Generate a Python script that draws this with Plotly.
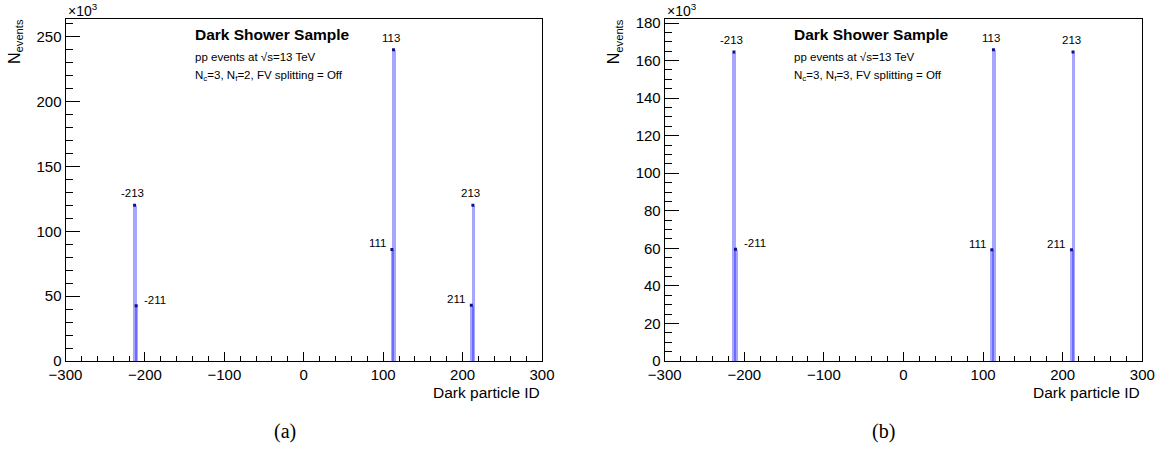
import plotly.graph_objects as go

# ---- data (counts in units of 10^3 events) ----
particle_ids = [-213, -211, 111, 113, 211, 213]
counts_a = [120, 42.5, 86, 240, 43, 120]
counts_b = [164.5, 59.5, 59.3, 165.8, 59.3, 164.5]
panel_labels = ["(a)", "(b)"]
n_flavours = [2, 3]
x_ticks = [-300, -200, -100, 0, 100, 200, 300]

W, H = 1163, 450
FONT = "Liberation Sans, Arial, sans-serif"

# label placement per particle id (style)
label_place = {-213: "above", -211: "right", 111: "left", 113: "above", 211: "left", 213: "above"}

panels = [
    dict(counts=counts_a, x0=65.5, x1=542, ymax=264, ydt=50, ymin_dt=10),
    dict(counts=counts_b, x0=664.7, x1=1142.3, ymax=182.4, ydt=20, ymin_dt=5),
]
top_px, bot_px = 18.5, 361

fig = go.Figure()
annotations = []
layout_axes = {}

for i, p in enumerate(panels):
    xa = "x" if i == 0 else "x2"
    ya = "y" if i == 0 else "y2"
    fig.add_trace(go.Bar(
        x=particle_ids, y=p["counts"], width=4.5,
        marker=dict(color="rgba(0,0,255,0.35)", line=dict(width=0)),
        xaxis=xa, yaxis=ya, showlegend=False, hoverinfo="x+y"))
    fig.add_trace(go.Scatter(
        x=particle_ids, y=p["counts"], mode="markers",
        marker=dict(symbol="square", size=3, color="#10108a", line=dict(width=0)),
        xaxis=xa, yaxis=ya, showlegend=False, hoverinfo="skip"))

    xdom = [p["x0"] / W, p["x1"] / W]
    ydom = [1 - bot_px / H, 1 - top_px / H]
    suffix = "" if i == 0 else "2"
    layout_axes["xaxis" + suffix] = dict(
        domain=xdom, range=[-300, 300], anchor=ya, automargin=False,
        tickmode="array", tickvals=x_ticks,
        ticks="inside", ticklen=9, tickwidth=1, tickcolor="black",
        minor=dict(dtick=20, tick0=0, ticks="inside", ticklen=5, tickwidth=1, tickcolor="black"),
        showline=True, linecolor="black", linewidth=1, mirror=True,
        showgrid=False, zeroline=False,
        tickfont=dict(family=FONT, size=15, color="black"))
    layout_axes["yaxis" + suffix] = dict(
        domain=ydom, range=[0, p["ymax"]], anchor=xa, automargin=False,
        dtick=p["ydt"], tick0=0,
        ticks="inside", ticklen=14, tickwidth=1, tickcolor="black",
        minor=dict(dtick=p["ymin_dt"], tick0=0, ticks="inside", ticklen=7, tickwidth=1, tickcolor="black"),
        showline=True, linecolor="black", linewidth=1, mirror=True,
        showgrid=False, zeroline=False,
        tickfont=dict(family=FONT, size=15, color="black"))

    # particle id labels
    for pid, c in zip(particle_ids, p["counts"]):
        place = label_place[pid]
        if place == "above":
            a = dict(xanchor="center", yanchor="bottom", xshift=-2, yshift=4)
        elif place == "right":
            a = dict(xanchor="left", yanchor="bottom", xshift=6, yshift=-2)
        else:
            a = dict(xanchor="right", yanchor="bottom", xshift=-4, yshift=-2)
        annotations.append(dict(x=pid, y=c, xref=xa, yref=ya, text=str(pid), showarrow=False,
                                font=dict(family=FONT, size=11.5, color="black"), **a))

    px0 = p["x0"]
    # x10^3 multiplier
    annotations.append(dict(x=px0 / W, y=1 - 10 / H, xref="paper", yref="paper", xanchor="left",
                            yanchor="middle", text="×10<sup>3</sup>", showarrow=False,
                            font=dict(family=FONT, size=14, color="black")))
    # y title
    annotations.append(dict(x=(px0 - 50) / W, y=1 - 17 / H, xref="paper", yref="paper", xanchor="center",
                            yanchor="top", textangle=-90, text="N<sub>events</sub>", showarrow=False,
                            font=dict(family=FONT, size=16, color="black")))
    # x title
    annotations.append(dict(x=p["x1"] / W, y=1 - 392 / H, xref="paper", yref="paper", xanchor="right",
                            yanchor="middle", text="Dark particle ID", showarrow=False,
                            font=dict(family=FONT, size=15.5, color="black")))
    # sample text
    tx = (px0 + 127) / W
    annotations.append(dict(x=tx, y=1 - 34 / H, xref="paper", yref="paper", xanchor="left",
                            yanchor="middle", text="<b>Dark Shower Sample</b>", showarrow=False,
                            font=dict(family=FONT, size=15.5, color="black")))
    annotations.append(dict(x=tx, y=1 - 57 / H, xref="paper", yref="paper", xanchor="left",
                            yanchor="middle", text="pp events at √s=13 TeV", showarrow=False,
                            font=dict(family=FONT, size=11.5, color="black")))
    annotations.append(dict(x=tx, y=1 - 76 / H, xref="paper", yref="paper", xanchor="left",
                            yanchor="middle",
                            text=f"N<sub>c</sub>=3, N<sub>f</sub>={n_flavours[i]}, FV splitting = Off",
                            showarrow=False, font=dict(family=FONT, size=11.5, color="black")))
    # panel label
    annotations.append(dict(x=(px0 + 219) / W, y=1 - 431 / H, xref="paper", yref="paper", xanchor="center",
                            yanchor="middle", text=panel_labels[i], showarrow=False,
                            font=dict(family="Liberation Serif, DejaVu Serif, serif", size=20, color="black")))

fig.update_layout(
    width=W, height=H,
    margin=dict(l=0, r=0, t=0, b=0, pad=0, autoexpand=False),
    paper_bgcolor="white", plot_bgcolor="white",
    barmode="overlay", bargap=0, showlegend=False,
    annotations=annotations,
    **layout_axes)

fig.write_html("out.html",
               config={"displayModeBar": False},
               post_script="document.body.style.margin='0px';document.body.style.overflow='hidden';")
